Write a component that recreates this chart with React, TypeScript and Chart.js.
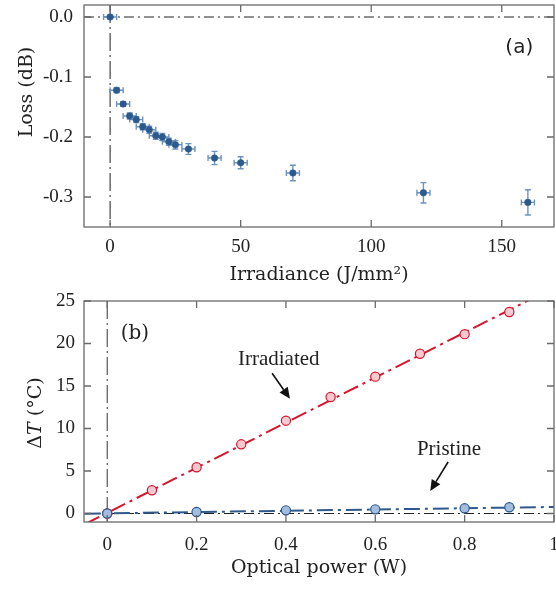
import React, { useEffect, useRef } from "react";
import { Chart, registerables } from "chart.js";
Chart.register(...registerables);

// ---------- Panel (a) data ----------
const irradiance = [0, 2.5, 5, 7.5, 10, 12.5, 15, 17.5, 20, 22.5, 25, 30, 40, 50, 70, 120, 160];
const loss = [0, -0.122, -0.145, -0.165, -0.171, -0.183, -0.188, -0.198, -0.2, -0.208, -0.213, -0.22, -0.235, -0.243, -0.26, -0.293, -0.309];
const irradianceErr = [2.5, 2.5, 2.5, 2.5, 2.5, 2.5, 2.5, 2.5, 2.5, 2.5, 2.5, 2.5, 2.5, 2.5, 2.5, 2.5, 2.5];
const lossErr = [0.002, 0.004, 0.004, 0.005, 0.005, 0.005, 0.006, 0.006, 0.006, 0.006, 0.007, 0.009, 0.011, 0.01, 0.013, 0.017, 0.021];
const irrTicks = [0, 50, 100, 150];
const irrTickLabels = ["0", "50", "100", "150"];
const lossTicks = [0, -0.1, -0.2, -0.3];
const lossTickLabels = ["0.0", "-0.1", "-0.2", "-0.3"];

// ---------- Panel (b) data ----------
const powerIrradiated = [0, 0.1, 0.2, 0.3, 0.4, 0.5, 0.6, 0.7, 0.8, 0.9];
const dTIrradiated = [0, 2.73, 5.44, 8.14, 10.92, 13.7, 16.1, 18.8, 21.1, 23.7];
const powerPristine = [0, 0.2, 0.4, 0.6, 0.8, 0.9];
const dTPristine = [0, 0.18, 0.37, 0.49, 0.61, 0.73];
const fitPower = [-0.05, 1.0];
const fitIrradiated = [-1.25, 26.6];
const fitPristine = [-0.02, 0.77];
const powerTicks = [0, 0.2, 0.4, 0.6, 0.8, 1];
const powerTickLabels = ["0", "0.2", "0.4", "0.6", "0.8", "1"];
const dTTicks = [0, 5, 10, 15, 20, 25];
const dTTickLabels = ["0", "5", "10", "15", "20", "25"];

// annotation anchors (data coordinates)
const irrLabelPos = [0.384, 17.5];
const irrArrow = [0.369, 16.5, 0.409, 13.5];
const priLabelPos = [0.765, 6.9];
const priArrow = [0.763, 6.06, 0.723, 2.65];
const panelAPos = [156.7, -0.052];
const panelBPos = [0.062, 21.2];

const TICK_FONT = { family: "'Liberation Serif', serif", size: 19 };
const TITLE_FONT = "19px 'DejaVu Serif', serif";
const ANNOT_FONT = "21px 'Liberation Serif', serif";
const AXIS_COLOR = "#6a6a6a";
const TEXT_COLOR = "#222";
const CANVAS_W = 576; // wider than the page; the overflow is clipped by the wrapper
const RIGHT_PAD = CANVAS_W - 554;

function setTicks(values: number[]) {
  return (scale: any) => {
    scale.ticks = values.map((v) => ({ value: v }));
  };
}

function fitWidth(w: number) {
  return (scale: any) => {
    scale.width = w;
    scale.paddingTop = 0;
    scale.paddingBottom = 0;
  };
}
function fitHeight(h: number) {
  return (scale: any) => {
    scale.height = h;
    scale.paddingLeft = 0;
    scale.paddingRight = 0;
  };
}

function drawFrame(chart: any, xTicks: number[], yTicks: number[]) {
  const { ctx, chartArea: a, scales } = chart;
  const x = scales.x, y = scales.y;
  const L = 7;
  ctx.save();
  ctx.strokeStyle = AXIS_COLOR;
  ctx.lineWidth = 1.3;
  ctx.setLineDash([]);
  ctx.strokeRect(a.left, a.top, a.right - a.left, a.bottom - a.top);
  ctx.beginPath();
  for (const v of xTicks) {
    const p = x.getPixelForValue(v);
    ctx.moveTo(p, a.bottom);
    ctx.lineTo(p, a.bottom - L);
    ctx.moveTo(p, a.top);
    ctx.lineTo(p, a.top + L);
  }
  for (const v of yTicks) {
    const p = y.getPixelForValue(v);
    ctx.moveTo(a.left, p);
    ctx.lineTo(a.left + L, p);
    ctx.moveTo(a.right, p);
    ctx.lineTo(a.right - L, p);
  }
  ctx.stroke();
  ctx.restore();
}

function drawRefLines(chart: any, vDash: number[], hDash: number[], vColor: string, hColor: string) {
  const { ctx, chartArea: a, scales } = chart;
  const x0 = scales.x.getPixelForValue(0);
  const y0 = scales.y.getPixelForValue(0);
  ctx.save();
  ctx.beginPath();
  ctx.rect(a.left, a.top, a.right - a.left, a.bottom - a.top);
  ctx.clip();
  ctx.lineWidth = 1.2;
  ctx.strokeStyle = vColor;
  ctx.setLineDash(vDash);
  ctx.beginPath();
  ctx.moveTo(x0, a.top);
  ctx.lineTo(x0, a.bottom);
  ctx.stroke();
  ctx.strokeStyle = hColor;
  ctx.setLineDash(hDash);
  ctx.beginPath();
  ctx.moveTo(a.left, y0);
  ctx.lineTo(a.right, y0);
  ctx.stroke();
  ctx.restore();
}

function drawVerticalTitle(ctx: any, parts: { text: string; font: string }[], baselineX: number, centerY: number) {
  ctx.save();
  ctx.fillStyle = TEXT_COLOR;
  ctx.textBaseline = "alphabetic";
  ctx.textAlign = "left";
  let total = 0;
  const widths = parts.map((p) => {
    ctx.font = p.font;
    const w = ctx.measureText(p.text).width;
    total += w;
    return w;
  });
  ctx.translate(baselineX, centerY);
  ctx.rotate(-Math.PI / 2);
  let cx = -total / 2;
  parts.forEach((p, i) => {
    ctx.font = p.font;
    ctx.fillText(p.text, cx, 0);
    cx += widths[i];
  });
  ctx.restore();
}

function drawArrow(ctx: any, x1: number, y1: number, x2: number, y2: number) {
  const ang = Math.atan2(y2 - y1, x2 - x1);
  const head = 11, hw = 5;
  const bx = x2 - head * Math.cos(ang), by = y2 - head * Math.sin(ang);
  ctx.save();
  ctx.strokeStyle = "#111";
  ctx.fillStyle = "#111";
  ctx.lineWidth = 1.6;
  ctx.setLineDash([]);
  ctx.beginPath();
  ctx.moveTo(x1, y1);
  ctx.lineTo(bx, by);
  ctx.stroke();
  ctx.beginPath();
  ctx.moveTo(x2, y2);
  ctx.lineTo(bx + hw * Math.sin(ang), by - hw * Math.cos(ang));
  ctx.lineTo(bx - hw * Math.sin(ang), by + hw * Math.cos(ang));
  ctx.closePath();
  ctx.fill();
  ctx.restore();
}

const panelAPlugin = {
  id: "panelA",
  beforeDatasetsDraw(chart: any) {
    drawRefLines(chart, [18, 4, 2, 4], [10, 4, 2, 4], "#444", "#222");
    const { ctx, scales } = chart;
    const x = scales.x, y = scales.y;
    ctx.save();
    ctx.strokeStyle = "#6d93c2";
    ctx.lineWidth = 1.4;
    ctx.setLineDash([]);
    ctx.beginPath();
    const cap = 3;
    irradiance.forEach((xv, i) => {
      const px = x.getPixelForValue(xv);
      const py = y.getPixelForValue(loss[i]);
      const xl = x.getPixelForValue(xv - irradianceErr[i]);
      const xr = x.getPixelForValue(xv + irradianceErr[i]);
      const yt = y.getPixelForValue(loss[i] + lossErr[i]);
      const yb = y.getPixelForValue(loss[i] - lossErr[i]);
      ctx.moveTo(xl, py); ctx.lineTo(xr, py);
      ctx.moveTo(xl, py - cap); ctx.lineTo(xl, py + cap);
      ctx.moveTo(xr, py - cap); ctx.lineTo(xr, py + cap);
      ctx.moveTo(px, yt); ctx.lineTo(px, yb);
      ctx.moveTo(px - cap, yt); ctx.lineTo(px + cap, yt);
      ctx.moveTo(px - cap, yb); ctx.lineTo(px + cap, yb);
    });
    ctx.stroke();
    ctx.restore();
  },
  afterDraw(chart: any) {
    drawFrame(chart, irrTicks, lossTicks);
    const { ctx, chartArea: a, scales } = chart;
    ctx.save();
    ctx.fillStyle = TEXT_COLOR;
    ctx.font = TITLE_FONT;
    ctx.textAlign = "center";
    ctx.textBaseline = "alphabetic";
    ctx.fillText("Irradiance (J/mm\u00B2)", (a.left + a.right) / 2, 280);
    ctx.font = "20px 'DejaVu Sans', sans-serif";
    ctx.textBaseline = "middle";
    ctx.fillText("(a)", scales.x.getPixelForValue(panelAPos[0]), scales.y.getPixelForValue(panelAPos[1]));
    ctx.restore();
    drawVerticalTitle(ctx, [{ text: "Loss (dB)", font: TITLE_FONT }], 32, 92);
  },
};

const panelBPlugin = {
  id: "panelB",
  beforeDatasetsDraw(chart: any) {
    drawRefLines(chart, [18, 4, 2, 4], [10, 4, 2, 4], "#555", "#222");
  },
  afterDraw(chart: any) {
    drawFrame(chart, powerTicks, dTTicks);
    const { ctx, chartArea: a, scales } = chart;
    const x = scales.x, y = scales.y;
    ctx.save();
    ctx.fillStyle = TEXT_COLOR;
    ctx.font = TITLE_FONT;
    ctx.textAlign = "center";
    ctx.textBaseline = "alphabetic";
    ctx.fillText("Optical power (W)", (a.left + a.right) / 2, 283);
    ctx.font = ANNOT_FONT;
    ctx.fillText("Irradiated", x.getPixelForValue(irrLabelPos[0]), y.getPixelForValue(irrLabelPos[1]));
    ctx.fillText("Pristine", x.getPixelForValue(priLabelPos[0]), y.getPixelForValue(priLabelPos[1]));
    ctx.font = "20px 'DejaVu Serif', serif";
    ctx.textBaseline = "middle";
    ctx.fillText("(b)", x.getPixelForValue(panelBPos[0]), y.getPixelForValue(panelBPos[1]));
    ctx.restore();
    drawArrow(ctx, x.getPixelForValue(irrArrow[0]), y.getPixelForValue(irrArrow[1]), x.getPixelForValue(irrArrow[2]), y.getPixelForValue(irrArrow[3]));
    drawArrow(ctx, x.getPixelForValue(priArrow[0]), y.getPixelForValue(priArrow[1]), x.getPixelForValue(priArrow[2]), y.getPixelForValue(priArrow[3]));
    drawVerticalTitle(
      ctx,
      [
        { text: "\u0394", font: TITLE_FONT },
        { text: "T", font: "italic " + TITLE_FONT },
        { text: " (\u00B0C)", font: TITLE_FONT },
      ],
      41,
      413 - 290
    );
  },
};

export default function App() {
  const topRef = useRef<HTMLCanvasElement>(null);
  const botRef = useRef<HTMLCanvasElement>(null);

  useEffect(() => {
    const common = {
      animation: false as const,
      responsive: false,
      maintainAspectRatio: false,
      devicePixelRatio: 1,
      events: [],
      plugins: { legend: { display: false }, tooltip: { enabled: false } },
    };

    const top = new Chart(topRef.current!, {
      type: "scatter",
      data: {
        datasets: [
          {
            data: irradiance.map((v, i) => ({ x: v, y: loss[i] })),
            pointRadius: 3.3,
            pointBackgroundColor: "#2c5a8c",
            pointBorderColor: "#2c5a8c",
            pointBorderWidth: 0.5,
          },
        ],
      },
      options: {
        ...common,
        layout: { padding: { left: 0, right: RIGHT_PAD, top: 5, bottom: 0 } },
        scales: {
          x: {
            type: "linear",
            min: -10,
            max: 170,
            grid: { display: false, drawTicks: false },
            border: { display: false },
            afterBuildTicks: setTicks(irrTicks),
            afterFit: fitHeight(63),
            ticks: {
              font: TICK_FONT,
              color: TEXT_COLOR,
              padding: 9,
              maxRotation: 0,
              autoSkip: false,
              callback: (_v: any, i: number) => irrTickLabels[i],
            },
          },
          y: {
            type: "linear",
            min: -0.35,
            max: 0.02,
            grid: { display: false, drawTicks: false },
            border: { display: false },
            afterBuildTicks: setTicks(lossTicks),
            afterFit: fitWidth(84),
            ticks: {
              font: TICK_FONT,
              color: TEXT_COLOR,
              padding: 11,
              autoSkip: false,
              callback: (_v: any, i: number) => lossTickLabels[i],
            },
          },
        },
      } as any,
      plugins: [panelAPlugin],
    });

    const bot = new Chart(botRef.current!, {
      type: "scatter",
      data: {
        datasets: [
          {
            data: powerPristine.map((v, i) => ({ x: v, y: dTPristine[i] })),
            pointRadius: 4.6,
            pointBackgroundColor: "#a2bde0",
            pointBorderColor: "#2d5a8b",
            pointBorderWidth: 1.2,
            order: 0,
          },
          {
            data: powerIrradiated.map((v, i) => ({ x: v, y: dTIrradiated[i] })),
            pointRadius: 4.6,
            pointBackgroundColor: "#f5c9d0",
            pointBorderColor: "#d8142c",
            pointBorderWidth: 1.2,
            order: 1,
          },
          {
            data: fitPower.map((v, i) => ({ x: v, y: fitPristine[i] })),
            showLine: true,
            pointRadius: 0,
            borderColor: "#2d5a8b",
            borderWidth: 2,
            borderDash: [16, 5, 3, 5],
            order: 2,
          },
          {
            data: fitPower.map((v, i) => ({ x: v, y: fitIrradiated[i] })),
            showLine: true,
            pointRadius: 0,
            borderColor: "#d8142c",
            borderWidth: 2,
            borderDash: [16, 5, 3, 5],
            order: 3,
          },
        ],
      },
      options: {
        ...common,
        layout: { padding: { left: 0, right: RIGHT_PAD, top: 11, bottom: 0 } },
        scales: {
          x: {
            type: "linear",
            min: -0.052,
            max: 1,
            grid: { display: false, drawTicks: false },
            border: { display: false },
            afterBuildTicks: setTicks(powerTicks),
            afterFit: fitHeight(71),
            ticks: {
              font: TICK_FONT,
              color: TEXT_COLOR,
              padding: 12,
              maxRotation: 0,
              autoSkip: false,
              callback: (_v: any, i: number) => powerTickLabels[i],
            },
          },
          y: {
            type: "linear",
            min: -1,
            max: 25,
            grid: { display: false, drawTicks: false },
            border: { display: false },
            afterBuildTicks: setTicks(dTTicks),
            afterFit: fitWidth(84),
            ticks: {
              font: TICK_FONT,
              color: TEXT_COLOR,
              padding: 9,
              autoSkip: false,
              callback: (_v: any, i: number) => dTTickLabels[i],
            },
          },
        },
      } as any,
      plugins: [panelBPlugin],
    });

    return () => {
      top.destroy();
      bot.destroy();
    };
  }, []);

  return (
    <div style={{ position: "fixed", left: 0, top: 0, width: 556, height: 593, background: "#fff", overflow: "hidden" }}>
      <canvas ref={topRef} width={CANVAS_W} height={290} style={{ display: "block", width: CANVAS_W, height: 290 }} />
      <canvas ref={botRef} width={CANVAS_W} height={303} style={{ display: "block", width: CANVAS_W, height: 303 }} />
    </div>
  );
}
